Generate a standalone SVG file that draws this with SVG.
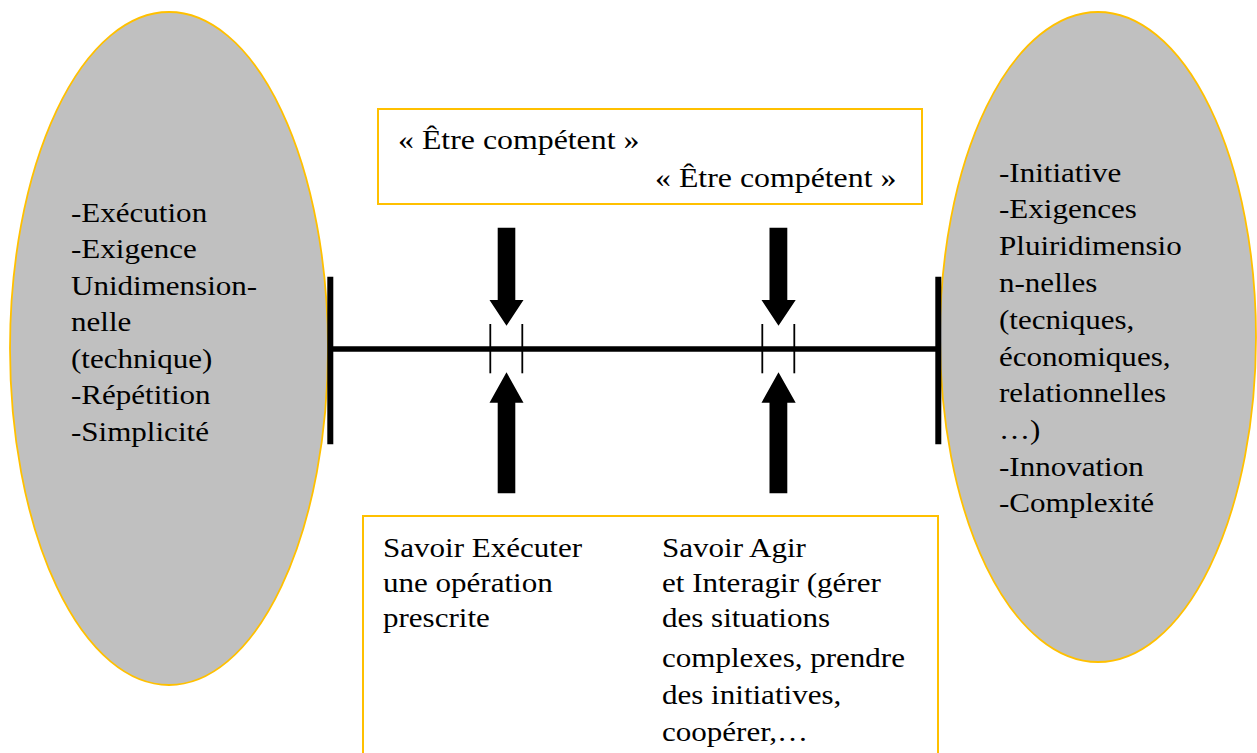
<svg xmlns="http://www.w3.org/2000/svg" width="1257" height="753" viewBox="0 0 1257 753">
<style>
.t{font-family:"Liberation Serif","Times New Roman",serif;font-size:27px;fill:#000}
.ell{fill:#C0C0C0;stroke:#FFC000;stroke-width:1.8}
.box{fill:#fff;stroke:#FFC000;stroke-width:2}
.bar{stroke:#000;stroke-width:6;fill:none}
.tick{stroke:#000;stroke-width:1.8;fill:none}
.arr{fill:#000}
</style>
<rect width="1257" height="753" fill="#fff"/>
<g id="left-ellipse">
<ellipse class="ell" cx="169" cy="348.5" rx="159" ry="336.5"/>
<g transform="translate(71,0) scale(1.15,1)"><text class="t">
<tspan x="0" y="222">-Exécution</tspan>
<tspan x="0" y="258.5">-Exigence</tspan>
<tspan x="0" y="295">Unidimension-</tspan>
<tspan x="0" y="331.5">nelle</tspan>
<tspan x="0" y="368">(technique)</tspan>
<tspan x="0" y="404.5">-Répétition</tspan>
<tspan x="0" y="441">-Simplicité</tspan>
</text></g>
</g>
<g id="right-ellipse">
<ellipse class="ell" cx="1098" cy="337" rx="158" ry="325"/>
<g transform="translate(999,0) scale(1.15,1)"><text class="t">
<tspan x="0" y="182">-Initiative</tspan>
<tspan x="0" y="218.5">-Exigences</tspan>
<tspan x="0" y="255">Pluiridimensio</tspan>
<tspan x="0" y="292">n-nelles</tspan>
<tspan x="0" y="329">(tecniques,</tspan>
<tspan x="0" y="366">économiques,</tspan>
<tspan x="0" y="402">relationnelles</tspan>
<tspan x="0" y="439">…)</tspan>
<tspan x="0" y="476">-Innovation</tspan>
<tspan x="0" y="512">-Complexité</tspan>
</text></g>
</g>
<g id="top-box">
<rect class="box" x="378" y="109" width="544" height="95"/>
<g transform="translate(398,0) scale(1.18,1)"><text class="t" x="0" y="149">« Être compétent »</text></g>
<g transform="translate(655,0) scale(1.18,1)"><text class="t" x="0" y="187">« Être compétent »</text></g>
</g>
<g id="bottom-box">
<rect class="box" x="363" y="516" width="575" height="260"/>
<g transform="translate(383,0) scale(1.15,1)"><text class="t">
<tspan x="0" y="557">Savoir Exécuter</tspan>
<tspan x="0" y="592">une opération</tspan>
<tspan x="0" y="627">prescrite</tspan>
</text></g>
<g transform="translate(662,0) scale(1.15,1)"><text class="t">
<tspan x="0" y="557">Savoir Agir</tspan>
<tspan x="0" y="592">et Interagir (gérer</tspan>
<tspan x="0" y="627">des situations</tspan>
<tspan x="0" y="667">complexes, prendre</tspan>
<tspan x="0" y="704">des initiatives,</tspan>
<tspan x="0" y="741">coopérer,…</tspan>
</text></g>
</g>
<g id="connectors">
<line class="bar" x1="330" y1="349" x2="938" y2="349" style="stroke-width:5.5"/>
<line class="bar" x1="330.3" y1="276.7" x2="330.3" y2="444.3"/>
<line class="bar" x1="938.3" y1="276.7" x2="938.3" y2="444.3"/>
<line class="tick" x1="490.3" y1="324" x2="490.3" y2="373.3"/>
<line class="tick" x1="522.3" y1="324" x2="522.3" y2="373.3"/>
<line class="tick" x1="762.3" y1="324" x2="762.3" y2="373.3"/>
<line class="tick" x1="794.3" y1="324" x2="794.3" y2="373.3"/>
<path class="arr" d="M497.7,227.7 H515.3 V300 H523.5 L506.5,325.7 L489.5,300 H497.7 Z"/>
<path class="arr" d="M497.7,493.3 H515.3 V402.7 H523.5 L506.5,372.3 L489.5,402.7 H497.7 Z"/>
<path class="arr" d="M769.5,227.7 H787.3 V300 H795.7 L778.5,325.7 L761.5,300 H769.5 Z"/>
<path class="arr" d="M769.5,493.3 H787.3 V402.7 H795.7 L778.5,372.3 L761.5,402.7 H769.5 Z"/>
</g>
</svg>
